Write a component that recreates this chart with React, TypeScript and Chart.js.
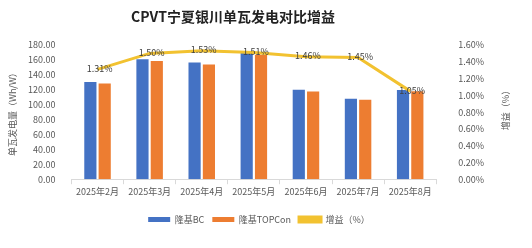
import React, { useEffect, useRef } from "react";
import { Chart, registerables } from "chart.js";

Chart.register(...registerables);

const categories = ["2025年2月", "2025年3月", "2025年4月", "2025年5月", "2025年6月", "2025年7月", "2025年8月"];
const bcValues = [130.5, 161.0, 156.5, 169.5, 120.0, 108.0, 119.5];
const topconValues = [128.5, 158.5, 154.0, 167.0, 117.5, 106.5, 118.0];
const gainValues = [1.31, 1.5, 1.53, 1.51, 1.46, 1.45, 1.05];
const leftTicks = [0, 20, 40, 60, 80, 100, 120, 140, 160, 180];
const rightTicks = [0, 0.2, 0.4, 0.6, 0.8, 1.0, 1.2, 1.4, 1.6];

const titleText = "CPVT宁夏银川单瓦发电对比增益";
const seriesNames = ["隆基BC", "隆基TOPCon", "增益（%）"];
const leftTitle = "单瓦发电量（Wh/W）";
const rightTitle = "增益（%）";

const FONT = "'Noto Sans CJK SC', 'Noto Sans', sans-serif";

export default function App() {
  const ref = useRef<HTMLCanvasElement | null>(null);
  useEffect(() => {
    document.body.style.margin = "0";
    const canvas = ref.current!;
    const extras = {
      id: "extras",
      afterDraw(chart: any) {
        const ctx = chart.ctx;
        const area = chart.chartArea;
        ctx.save();
        ctx.fillStyle = "#222";
        ctx.font = `bold 14px ${FONT}`;
        ctx.textAlign = "center";
        ctx.textBaseline = "middle";
        ctx.fillText(titleText, 233, 17);
        ctx.fillStyle = "#595959";
        ctx.font = `9px ${FONT}`;
        ctx.save();
        ctx.translate(13, (area.top + area.bottom) / 2);
        ctx.rotate(-Math.PI / 2);
        ctx.fillText(leftTitle, 0, 0);
        ctx.restore();
        ctx.save();
        ctx.translate(506, 108);
        ctx.rotate(-Math.PI / 2);
        ctx.fillText(rightTitle, 0, 0);
        ctx.restore();
        const meta = chart.getDatasetMeta(2);
        ctx.fillStyle = "#404040";
        ctx.font = `9px ${FONT}`;
        meta.data.forEach((pt: any, i: number) => {
          ctx.fillText(gainValues[i].toFixed(2) + "%", pt.x + 2, pt.y - 1);
        });
        ctx.restore();
      },
    };
    const chart = new Chart(canvas, {
      type: "bar",
      data: {
        labels: categories,
        datasets: [
          {
            label: seriesNames[0],
            data: bcValues,
            backgroundColor: "#4472C4",
            yAxisID: "y",
            order: 2,
            categoryPercentage: 0.55,
            barPercentage: 0.85,
          },
          {
            label: seriesNames[1],
            data: topconValues,
            backgroundColor: "#ED7D31",
            yAxisID: "y",
            order: 2,
            categoryPercentage: 0.55,
            barPercentage: 0.85,
          },
          {
            type: "line",
            label: seriesNames[2],
            data: gainValues,
            borderColor: "#F2C230",
            backgroundColor: "#F2C230",
            borderWidth: 3,
            pointRadius: 0,
            yAxisID: "y1",
            order: 1,
          } as any,
        ],
      },
      options: {
        animation: false,
        responsive: false,
        maintainAspectRatio: false,
        layout: { padding: { top: 45, left: 20, right: 34, bottom: 14 } },
        plugins: {
          title: { display: false },
          tooltip: { enabled: false },
          legend: {
            position: "bottom",
            labels: {
              boxWidth: 22,
              boxHeight: 5,
              padding: 8,
              color: "#595959",
              font: { size: 9, family: FONT },
              sort: (a: any, b: any) => a.datasetIndex - b.datasetIndex,
            },
          },
        },
        scales: {
          x: {
            offset: true,
            afterFit: (s: any) => { s.height += 8; },
            grid: { display: true, drawOnChartArea: false, offset: true, tickLength: 5, color: "#d9d9d9" },
            border: { color: "#d9d9d9" },
            ticks: { color: "#595959", font: { size: 9, family: FONT }, maxRotation: 0, padding: 2 },
          },
          y: {
            position: "left",
            min: 0,
            max: 180,
            afterBuildTicks: (s: any) => { s.ticks = leftTicks.map((v) => ({ value: v })); },
            grid: { display: false },
            border: { display: false },
            ticks: {
              color: "#595959",
              font: { size: 9, family: FONT },
              callback: (v: any) => Number(v).toFixed(2),
              padding: 8,
            },
          },
          y1: {
            position: "right",
            min: 0,
            max: 1.6,
            afterBuildTicks: (s: any) => { s.ticks = rightTicks.map((v) => ({ value: v })); },
            grid: { display: false },
            border: { display: false },
            ticks: {
              color: "#595959",
              font: { size: 9, family: FONT },
              callback: (v: any) => Number(v).toFixed(2) + "%",
              padding: 14,
            },
          },
        },
      },
      plugins: [extras],
    } as any);
    return () => chart.destroy();
  }, []);
  return <canvas ref={ref} width={532} height={248} style={{ display: "block", width: 532, height: 248 }} />;
}
